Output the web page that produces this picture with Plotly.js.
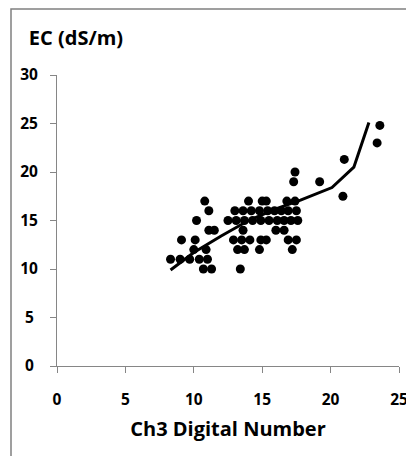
<!DOCTYPE html>
<html>
<head>
<meta charset="utf-8">
<script src="https://cdn.plot.ly/plotly-3.0.1.min.js"></script>
<style>html,body{margin:0;padding:0;background:#fff;}#chart{width:406px;height:456px;}</style>
</head>
<body>
<div id="chart"></div>
<script>
// Observed points (Ch3 DN, EC dS/m), grouped by EC row
const row17x = [10.8, 14.0, 15.0, 15.3, 16.8, 17.4];
const row16x = [11.1, 13.0, 13.6, 14.2, 14.8, 15.4, 15.9, 16.4, 16.9, 17.5];
const row15x = [10.2, 12.5, 13.1, 13.7, 14.3, 14.9, 15.5, 16.1, 16.6, 17.1, 17.6];
const row14x = [11.1, 11.5, 13.6, 16.0, 16.6];
const row13x = [9.1, 10.1, 12.9, 13.5, 14.1, 14.9, 15.3, 16.9, 17.5];
const row12x = [10.0, 10.9, 13.2, 13.7, 14.8, 17.2];
const row11x = [8.3, 9.0, 9.7, 10.4, 11.0];
const row10x = [10.7, 11.3, 13.4];
const otherX = [17.3, 17.4, 19.2, 20.9, 21.0, 23.4, 23.6];
const otherY = [19, 20, 19, 17.5, 21.3, 23, 24.8];

// Fitted / predicted line
const lineX = [8.3, 10.0, 12.0, 14.0, 16.0, 17.8, 20.1, 21.7, 22.8];
const lineY = [9.9, 11.7, 13.4, 15.0, 16.2, 17.1, 18.4, 20.5, 25.1];

// Axis ticks
const xTickVals = [0, 5, 10, 15, 20, 25];
const xTickText = ['0', '5', '10', '15', '20', '25'];
const yTickVals = [0, 5, 10, 15, 20, 25, 30];
const yTickText = ['0\u00a0', '5\u00a0', '10', '15', '20', '25', '30'];

const rows = [[17,row17x],[16,row16x],[15,row15x],[14,row14x],[13,row13x],[12,row12x],[11,row11x],[10,row10x]];
const ptsX = [], ptsY = [];
rows.forEach(([y, xs]) => xs.forEach(x => { ptsX.push(x); ptsY.push(y); }));
otherX.forEach((x, i) => { ptsX.push(x); ptsY.push(otherY[i]); });

const font = 'Open Sans, Liberation Sans, sans-serif';

const traces = [
  { x: ptsX, y: ptsY, type: 'scatter', mode: 'markers',
    marker: { color: '#000', size: 9, line: { width: 0 } }, hoverinfo: 'none' },
  { x: lineX, y: lineY, type: 'scatter', mode: 'lines',
    line: { color: '#000', width: 3 }, hoverinfo: 'none' }
];

const axisCommon = {
  showgrid: false, zeroline: false, showline: true, linecolor: '#868686', linewidth: 1,
  ticks: 'outside', ticklen: 6, tickcolor: '#868686', tickwidth: 1,
  tickfont: { family: font, size: 15.5, color: '#000', weight: 'bold' },
  ticklabeloverflow: 'allow',
  fixedrange: true
};

const layout = {
  width: 406, height: 456,
  margin: { l: 57, r: 7, t: 75, b: 90, pad: 0 },
  paper_bgcolor: '#fff', plot_bgcolor: '#fff',
  showlegend: false,
  title: { text: 'EC (dS/m)', x: 76/406, xanchor: 'center', xref: 'container',
           y: 1 - 38/456, yanchor: 'middle', yref: 'container',
           font: { family: font, size: 20, color: '#000', weight: 'bold' } },
  xaxis: Object.assign({}, axisCommon, {
    range: [0, 25], tickmode: 'array', tickvals: xTickVals, ticktext: xTickText,
    ticklabelstandoff: 13,
    title: { text: 'Ch3 Digital Number', standoff: 13,
             font: { family: font, size: 20, color: '#000', weight: 'bold' } }
  }),
  yaxis: Object.assign({}, axisCommon, {
    range: [0, 30], tickmode: 'array', tickvals: yTickVals, ticktext: yTickText,
    ticklabelstandoff: 9
  }),
  shapes: [
    { type: 'rect', xref: 'paper', yref: 'paper',
      x0: (11 - 57) / 342, x1: 1.2, y0: -0.5, y1: (366 - 9) / 291,
      line: { color: '#808080', width: 1.5 }, fillcolor: 'rgba(0,0,0,0)', layer: 'below' }
  ]
};

Plotly.newPlot('chart', traces, layout, { staticPlot: true, displayModeBar: false });
</script>
</body>
</html>
